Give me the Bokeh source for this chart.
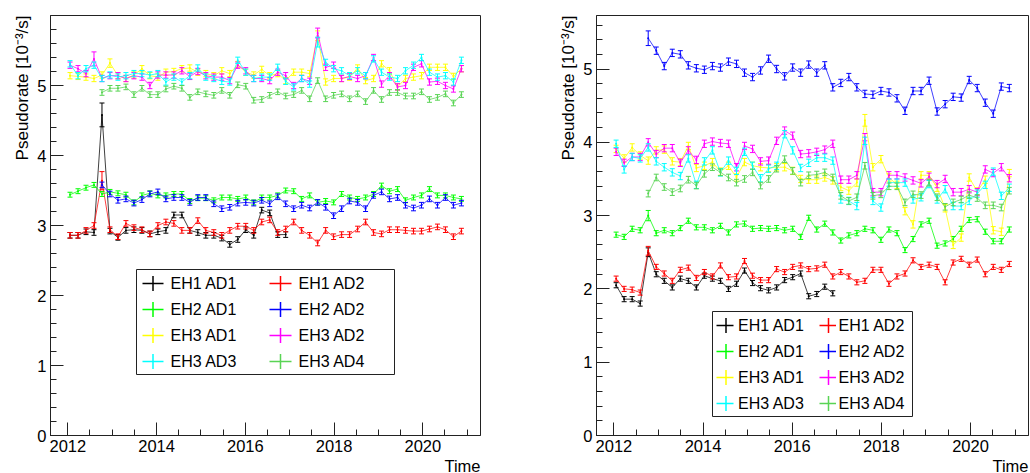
import numpy as np
from bokeh.plotting import figure
from bokeh.layouts import row
from bokeh.models import Range1d, FixedTicker, Title
from bokeh.core.properties import value
from bokeh.embed import file_html
from bokeh.resources import INLINE

# ---- bin centres (decimal year) -------------------------------------------
TIME = [2012.05, 2012.23, 2012.41, 2012.59, 2012.77, 2012.95, 2013.13, 2013.31,
        2013.49, 2013.67, 2013.85, 2014.03, 2014.21, 2014.39, 2014.57, 2014.75,
        2014.93, 2015.11, 2015.29, 2015.47, 2015.65, 2015.83, 2016.01, 2016.19,
        2016.37, 2016.55, 2016.73, 2016.91, 2017.09, 2017.27, 2017.45, 2017.63,
        2017.81, 2017.99, 2018.17, 2018.35, 2018.53, 2018.71, 2018.89, 2019.07,
        2019.25, 2019.43, 2019.61, 2019.79, 2019.97, 2020.15, 2020.33, 2020.51,
        2020.69, 2020.87]

NAMES = ["EH1 AD1", "EH1 AD2", "EH2 AD1", "EH2 AD2",
         "EH3 AD1", "EH3 AD2", "EH3 AD3", "EH3 AD4"]
COLORS = ["#000000", "#ff0000", "#00ff00", "#0000ff",
          "#ffff00", "#ff00ff", "#00ffff", "#59d454"]

# ---- left pad: pseudorate, 10^-3/s ------------------------------------------
L_EH1_AD1 = [2.86, 2.86, 2.91, 2.90, 4.58, 2.92, 2.83, 2.93, 2.94, 2.93,
             2.88, 2.91, 2.93, 3.15, 3.15, 2.93, 2.90, 2.86, 2.86, 2.82,
             2.73, 2.80, 2.94, 2.86, 3.22, 3.18, 2.87, 2.87] + [None] * 22
L_EH1_AD2 = [2.86, 2.86, 2.93, 3.00, 3.64, 2.94, 2.84, 3.03, 2.97, 2.94,
             2.88, 3.00, 3.05, 3.03, 2.93, 2.93, 3.07, 2.93, 2.90, 2.86,
             2.93, 2.99, 2.99, 2.93, 3.05, 3.08, 2.90, 2.95, 3.05, 2.93,
             2.86, 2.75, 2.93, 2.84, 2.87, 2.87, 2.95, 3.05, 2.90, 2.88,
             2.94, 2.94, 2.93, 2.92, 2.92, 2.95, 2.98, 2.94, 2.84, 2.92]
L_EH2_AD1 = [3.44, 3.49, 3.54, 3.58, 3.45, 3.48, 3.46, 3.44, 3.33, 3.43,
             3.46, 3.43, 3.43, 3.45, 3.45, 3.35, 3.39, 3.39, 3.36, 3.40,
             3.40, 3.38, 3.40, 3.33, 3.40, 3.40, 3.43, 3.50, 3.49, 3.38,
             3.43, 3.33, 3.35, 3.33, 3.45, 3.40, 3.38, 3.40, 3.45, 3.57,
             3.49, 3.52, 3.36, 3.40, 3.43, 3.52, 3.43, 3.43, 3.40, 3.38]
L_EH2_AD2 = [None] * 4 + [
             3.58, 3.45, 3.36, 3.38, 3.32, 3.37, 3.45, 3.48, 3.38, 3.40,
             3.40, 3.33, 3.40, 3.40, 3.31, 3.24, 3.26, 3.32, 3.33, 3.32,
             3.36, 3.31, 3.41, 3.31, 3.24, 3.29, 3.25, 3.33, 3.26, 3.14,
             3.24, 3.35, 3.33, 3.24, 3.43, 3.48, 3.38, 3.40, 3.29, 3.25,
             3.29, 3.38, 3.29, 3.40, 3.29, 3.32]
L_EH3_AD1 = [5.14, 5.13, 5.12, 5.10, 5.15, 5.32, 5.14, 5.10, 5.15, 5.24,
             5.14, 5.12, 5.19, 5.20, 5.24, 5.25, 5.19, 5.17, 5.14, 5.21,
             5.17, 5.30, 5.19, 5.15, 5.23, 5.14, 5.17, 5.07, 5.19, 5.19,
             5.17, 5.71, 5.05, 5.10, 5.10, 5.12, 5.25, 5.07, 5.10, 5.31,
             5.21, 4.98, 5.10, 5.12, 5.14, 5.26, 5.26, 5.26, 5.13, 5.24]
L_EH3_AD2 = [5.29, 5.24, 5.17, 5.38, 5.10, 5.14, 5.14, 5.10, 5.14, 5.12,
             5.00, 5.15, 5.15, 5.15, 5.21, 5.13, 5.20, 5.14, 5.12, 5.12,
             5.07, 5.29, 5.21, 5.10, 5.10, 5.07, 5.19, 5.14, 5.00, 5.10,
             5.06, 5.75, 5.26, 5.29, 5.10, 5.13, 5.10, 5.14, 5.40, 5.02,
             5.14, 4.98, 5.00, 5.26, 5.31, 5.05, 5.06, 5.00, 4.95, 5.24]
L_EH3_AD3 = [5.31, 5.14, 5.24, 5.29, 5.10, 5.15, 5.12, 5.14, 5.17, 5.17,
             5.15, 5.17, 5.05, 5.12, 5.05, 5.14, 5.25, 5.12, 5.10, 5.06,
             5.05, 5.36, 5.19, 5.10, 5.12, 5.12, 5.26, 5.06, 4.98, 5.10,
             5.02, 5.62, 5.33, 5.24, 5.21, 5.14, 5.21, 5.14, 5.38, 5.19,
             5.12, 5.10, 5.21, 5.29, 5.40, 5.19, 5.12, 5.14, 5.05, 5.36]
L_EH3_AD4 = [None] * 4 + [
             4.90, 4.96, 4.96, 4.98, 4.87, 4.96, 4.87, 4.87, 4.95, 4.99,
             4.96, 4.83, 4.91, 4.88, 4.86, 4.93, 4.86, 5.01, 4.99, 4.79,
             4.80, 4.86, 4.91, 4.85, 4.87, 4.93, 4.81, 5.07, 4.81, 4.86,
             4.88, 4.81, 4.88, 4.77, 4.93, 4.80, 4.90, 4.90, 4.85, 4.85,
             4.91, 4.80, 4.83, 4.88, 4.75, 4.87]

# ---- right pad ---------------------------------------------------------------
R_EH1_AD1 = [2.05, 1.86, 1.86, 1.80, 2.50, 2.20, 2.11, 2.02, 2.14, 2.11,
             2.02, 2.18, 2.14, 2.11, 2.00, 2.07, 2.25, 2.08, 2.01, 1.98,
             2.02, 2.12, 2.16, 2.21, 1.90, 1.93, 2.03, 1.94] + [None] * 22
R_EH1_AD2 = [2.14, 2.00, 1.99, 1.95, 2.52, 2.30, 2.21, 2.11, 2.26, 2.29,
             2.15, 2.23, 2.17, 2.32, 2.16, 2.17, 2.38, 2.18, 2.12, 2.12,
             2.27, 2.23, 2.30, 2.32, 2.27, 2.28, 2.33, 2.17, 2.23, 2.17,
             2.09, 2.11, 2.26, 2.26, 2.07, 2.17, 2.21, 2.39, 2.30, 2.33,
             2.30, 2.09, 2.36, 2.41, 2.33, 2.40, 2.20, 2.30, 2.26, 2.34]
R_EH2_AD1 = [2.74, 2.71, 2.82, 2.80, 3.00, 2.76, 2.80, 2.76, 2.83, 2.93,
             2.84, 2.84, 2.80, 2.86, 2.77, 2.88, 2.89, 2.82, 2.83, 2.82,
             2.83, 2.80, 2.82, 2.71, 2.97, 2.81, 2.89, 2.77, 2.66, 2.73,
             2.76, 2.82, 2.80, 2.67, 2.81, 2.76, 2.53, 2.68, 2.88, 2.93,
             2.59, 2.62, 2.68, 2.82, 2.94, 2.95, 2.78, 2.65, 2.65, 2.81]
R_EH2_AD2 = [None] * 4 + [
             5.42, 5.25, 5.04, 5.22, 5.20, 5.05, 5.01, 4.99, 5.04, 5.02,
             5.10, 5.07, 4.95, 4.89, 4.98, 5.14, 5.00, 4.90, 5.02, 4.95,
             5.06, 4.95, 5.05, 4.75, 4.81, 4.89, 4.75, 4.66, 4.65, 4.70,
             4.68, 4.60, 4.43, 4.70, 4.70, 4.84, 4.42, 4.52, 4.62, 4.61,
             4.85, 4.74, 4.54, 4.39, 4.76, 4.74]
R_EH3_AD1 = [3.91, 3.78, 3.93, 3.82, 3.75, 3.89, 3.90, 3.74, 3.73, 3.95,
             3.65, 3.68, 3.73, 3.60, 3.68, 3.52, 3.73, 3.68, 3.66, 3.65,
             3.66, 3.66, 3.61, 3.50, 3.49, 3.49, 3.52, 3.48, 3.39, 3.34,
             3.45, 4.30, 3.66, 3.77, 3.52, 3.42, 3.06, 2.88, 3.55, 3.55,
             3.38, 3.10, 2.60, 2.70, 3.52, 3.33, 3.49, 2.80, 2.78, 3.58]
R_EH3_AD2 = [3.87, 3.72, 3.80, 3.80, 4.00, 3.84, 3.92, 3.92, 3.72, 3.89,
             3.76, 3.98, 4.01, 3.99, 3.98, 3.66, 3.95, 3.91, 3.74, 3.75,
             4.02, 4.16, 4.09, 3.84, 3.85, 3.87, 3.90, 3.98, 3.49, 3.49,
             3.55, 4.07, 3.32, 3.32, 3.55, 3.55, 3.52, 3.48, 3.44, 3.53,
             3.43, 3.50, 3.32, 3.32, 3.36, 3.32, 3.63, 3.58, 3.66, 3.51]
R_EH3_AD3 = [3.98, 3.63, 3.80, 3.78, 3.93, 3.74, 3.66, 3.59, 3.54, 3.78,
             3.42, 3.74, 3.89, 3.59, 3.75, 3.61, 3.87, 3.68, 3.51, 3.64,
             3.68, 4.11, 3.89, 3.65, 3.72, 3.79, 3.79, 3.75, 3.22, 3.20,
             3.13, 4.02, 3.20, 3.11, 3.45, 3.45, 3.45, 3.22, 3.25, 3.43,
             3.22, 3.36, 3.13, 3.13, 3.20, 3.30, 3.42, 3.60, 3.27, 3.38]
R_EH3_AD4 = [None] * 4 + [
             3.30, 3.52, 3.39, 3.32, 3.37, 3.49, 3.41, 3.57, 3.66, 3.59,
             3.52, 3.45, 3.50, 3.59, 3.41, 3.50, 3.64, 3.77, 3.61, 3.45,
             3.55, 3.56, 3.59, 3.52, 3.27, 3.20, 3.25, 3.68, 3.27, 3.29,
             3.40, 3.40, 3.18, 3.29, 3.28, 3.45, 3.25, 3.12, 3.18, 3.22,
             3.28, 3.24, 3.14, 3.14, 3.11, 3.34]

LEFT = [L_EH1_AD1, L_EH1_AD2, L_EH2_AD1, L_EH2_AD2,
        L_EH3_AD1, L_EH3_AD2, L_EH3_AD3, L_EH3_AD4]
RIGHT = [R_EH1_AD1, R_EH1_AD2, R_EH2_AD1, R_EH2_AD2,
         R_EH3_AD1, R_EH3_AD2, R_EH3_AD3, R_EH3_AD4]

# statistical uncertainties: typical per detector, plus the larger bins
ERR_L = [0.04, 0.04, 0.035, 0.04, 0.045, 0.045, 0.045, 0.04]
ERR_R = [0.035, 0.035, 0.035, 0.05, 0.05, 0.05, 0.05, 0.045]
ERR_BIG_L = {(0, 4): 0.17, (1, 4): 0.13, (5, 3): 0.1, (4, 5): 0.06,
             (4, 31): 0.07, (5, 31): 0.07, (6, 31): 0.07}
ERR_BIG_R = {(3, 4): 0.1, (4, 31): 0.08, (0, 4): 0.06, (1, 4): 0.06,
             (2, 4): 0.07}

X_START, X_END = 2011.61, 2021.30
X_MAJOR = [2012, 2014, 2016, 2018, 2020]
X_MINOR = [2011.5 + 0.5 * k for k in range(21)]
Y_MAJOR = [0, 1, 2, 3, 4, 5]

Y_TITLE = "Pseudorate [10\u207b\u00b3/s]"
X_TITLE = "Time"

FONT = "Liberation Sans"
FRAME_H = 420


def make_panel(series, errs, big, y_end, border_l, border_r, frame_w, leg):
    p = figure(frame_width=frame_w, frame_height=FRAME_H, output_backend="svg",
               toolbar_location=None,
               x_range=Range1d(X_START, X_END), y_range=Range1d(0, y_end),
               min_border_left=border_l, min_border_right=border_r,
               min_border_top=15, min_border_bottom=38)
    p.background_fill_color = "white"
    p.border_fill_color = "white"
    p.outline_line_color = "#222222"
    p.outline_line_width = 1
    p.xgrid.visible = False
    p.ygrid.visible = False

    y_minor = [round(0.2 * k, 1) for k in range(int(y_end / 0.2) + 1)]
    p.xaxis.ticker = FixedTicker(ticks=X_MAJOR, minor_ticks=X_MINOR)
    p.yaxis.ticker = FixedTicker(ticks=Y_MAJOR, minor_ticks=y_minor)
    for ax, standoff in ((p.xaxis, 4), (p.yaxis, 4)):
        ax.axis_line_color = "#222222"
        ax.major_tick_line_color = "#222222"
        ax.minor_tick_line_color = "#222222"
        ax.major_tick_in = 13
        ax.major_tick_out = 0
        ax.minor_tick_in = 6
        ax.minor_tick_out = 0
        ax.major_label_standoff = standoff
        ax.major_label_text_font = FONT
        ax.major_label_text_font_size = "16.5px"
        ax.major_label_text_color = "black"

    # axis titles sit at the far end of each axis
    p.add_layout(Title(text=Y_TITLE, align="right", text_font=FONT,
                       text_font_size="17px", text_font_style="normal",
                       text_color="black", standoff=5), "left")
    p.add_layout(Title(text=X_TITLE, align="right", text_font=FONT,
                       text_font_size="16.5px", text_font_style="normal",
                       text_color="black", standoff=0), "below")

    t = np.array(TIME)
    for k, (vals, col) in enumerate(zip(series, COLORS)):
        v = np.array([np.nan if a is None else a for a in vals], dtype=float)
        e = np.full(len(v), errs[k])
        for (s, i), big_e in big.items():
            if s == k:
                e[i] = big_e
        ok = np.isfinite(v)
        p.line(t, v, line_color=col, line_width=1, line_alpha=0.75)
        p.segment(t[ok], v[ok] - e[ok], t[ok], v[ok] + e[ok],
                  line_color=col, line_width=1)
        p.scatter(t[ok], v[ok] + e[ok], marker="dash", size=5,
                  line_color=col, line_width=1)
        p.scatter(t[ok], v[ok] - e[ok], marker="dash", size=5,
                  line_color=col, line_width=1)
        p.scatter(t[ok], v[ok], marker="circle", size=2,
                  fill_color=col, line_color=None)

    # frame-pixel -> data helpers for the legend box
    def dx(px):
        return X_START + px * (X_END - X_START) / frame_w

    def dy(py):
        return y_end - py * y_end / FRAME_H

    bl, bt, br, bb = leg["box"]
    p.quad(left=[dx(bl)], right=[dx(br)], top=[dy(bt)], bottom=[dy(bb)],
           fill_color="white", line_color="#222222", line_width=1)
    tx, ty, tt = [], [], []
    for k, name in enumerate(NAMES):
        r, c = divmod(k, 2)
        yc = leg["rows"][r]
        x0, x1 = leg["hline"][c]
        xv = leg["vline"][c]
        p.segment([dx(x0)], [dy(yc)], [dx(x1)], [dy(yc)],
                  line_color=COLORS[k], line_width=1.5)
        p.segment([dx(xv)], [dy(yc - 7.5)], [dx(xv)], [dy(yc + 7.5)],
                  line_color=COLORS[k], line_width=1.5)
        tx.append(dx(leg["text"][c]))
        ty.append(dy(yc))
        tt.append(name)
    p.text(x=tx, y=ty, text=tt, text_font=value(FONT),
           text_font_size=value("16px"), text_baseline="middle",
           text_align="left", text_color="black")
    return p


LEG_L = dict(box=(86, 254, 344, 359), rows=[268, 294, 320, 346],
             hline=[(92, 113), (219, 241)], vline=[102.5, 230],
             text=[120, 248])
LEG_R = dict(box=(116, 296, 316, 401), rows=[310, 336, 362, 388],
             hline=[(120, 137), (223, 239.5)], vline=[129.5, 232],
             text=[141.5, 242])

left = make_panel(LEFT, ERR_L, ERR_BIG_L, 6.0, 50, 35, 430, LEG_L)
right = make_panel(RIGHT, ERR_R, ERR_BIG_R, 5.73, 81, 2, 432, LEG_R)

layout = row(left, right)
open("out.html", "w").write(file_html(layout, INLINE))
